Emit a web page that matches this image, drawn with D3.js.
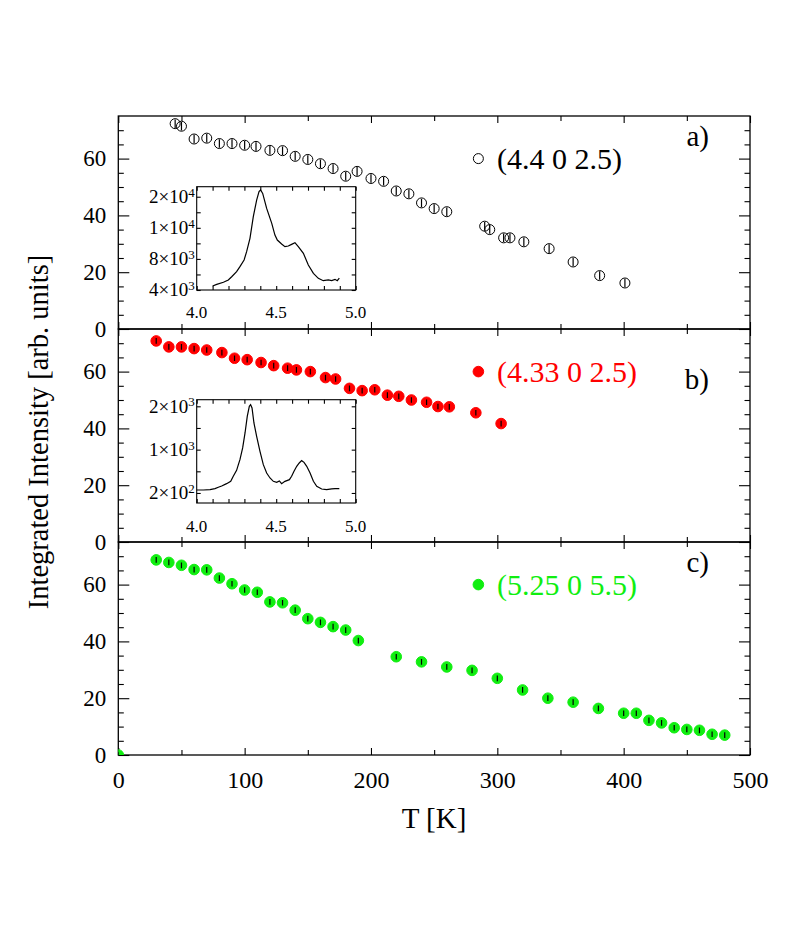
<!DOCTYPE html>
<html>
<head>
<meta charset="utf-8">
<script src="https://cdn.jsdelivr.net/npm/d3@7"></script>
<style>
  body { margin: 0; background: #fff; }
  svg { display: block; }
  text { font-family: "Liberation Serif", "Times New Roman", Times, serif; }
</style>
</head>
<body>
<script>
// temperature scans, one per reflection
const tA = [45, 50, 60, 70, 80, 90, 100, 109, 120, 130, 140, 150, 160, 170, 180, 189, 200, 210, 220, 230, 240, 250, 260, 290, 294, 305, 310, 321, 341, 360, 381, 401];
const iA = [72.3, 71.4, 66.9, 67.2, 65.3, 65.3, 64.7, 64.3, 62.9, 62.8, 60.8, 59.7, 58.2, 56.5, 53.8, 55.5, 53.0, 52.0, 48.6, 47.6, 44.4, 42.4, 41.3, 36.2, 35.0, 32.1, 32.1, 30.7, 28.3, 23.6, 18.8, 16.2];

const tB = [30, 40, 50, 60, 70, 82, 92, 102, 113, 123, 134, 141, 152, 164, 172, 183, 193, 203, 213, 222, 232, 244, 253, 262, 283, 303];
const iB = [70.8, 68.7, 68.7, 68.1, 67.6, 66.7, 64.7, 64.2, 63.2, 62.1, 61.2, 60.6, 60.0, 57.9, 57.4, 54.1, 53.3, 53.6, 51.7, 51.3, 50.0, 49.2, 47.7, 47.6, 45.5, 41.7];

const tC = [0, 30, 40, 50, 60, 70, 80, 90, 100, 110, 120, 130, 140, 150, 160, 170, 180, 190, 220, 240, 260, 280, 300, 320, 340, 360, 380, 400, 410, 420, 430, 440, 450, 460, 470, 480];
const iC = [0, 68.7, 67.8, 66.8, 65.3, 65.2, 62.3, 60.3, 58.1, 57.3, 53.9, 53.6, 51.0, 48.0, 46.7, 45.2, 44.0, 40.3, 34.6, 32.8, 31.0, 29.8, 27.0, 22.9, 20.0, 18.6, 16.4, 14.7, 14.7, 12.2, 11.3, 9.6, 9.0, 8.7, 7.3, 7.0];

const errA = 1.5, errB = 1.0, errC = 1.0;

const labels = ['(4.4 0 2.5)', '(4.33 0 2.5)', '(5.25 0 5.5)'];
const panelNames = ['a)', 'b)', 'c)'];

// insets: scans along h
const hA = [4.100, 4.126, 4.168, 4.199, 4.220, 4.251, 4.272, 4.298, 4.314, 4.335, 4.356, 4.377, 4.392, 4.402, 4.415, 4.440, 4.472, 4.492, 4.507, 4.534, 4.555, 4.576, 4.597, 4.618, 4.639, 4.671, 4.702, 4.734, 4.765, 4.796, 4.828, 4.849, 4.870, 4.884, 4.897];
const cA = [4510, 4730, 4990, 5290, 5710, 6360, 7000, 7860, 8930, 10650, 13430, 15570, 16650, 16860, 16430, 14500, 12570, 11070, 10430, 9920, 9570, 9660, 9870, 10090, 9570, 8720, 7220, 6140, 5500, 5200, 5290, 5200, 5370, 5200, 5540];

const hB = [4.000, 4.042, 4.084, 4.115, 4.136, 4.157, 4.188, 4.214, 4.230, 4.251, 4.262, 4.272, 4.289, 4.304, 4.318, 4.331, 4.339, 4.348, 4.360, 4.377, 4.398, 4.419, 4.440, 4.461, 4.482, 4.503, 4.520, 4.534, 4.555, 4.583, 4.597, 4.612, 4.629, 4.645, 4.660, 4.675, 4.692, 4.713, 4.734, 4.755, 4.786, 4.817, 4.849, 4.870, 4.897];
const cB = [255, 255, 261, 280, 305, 329, 372, 415, 508, 618, 723, 815, 1031, 1308, 1615, 1800, 1831, 1769, 1492, 1246, 969, 723, 569, 477, 415, 397, 422, 372, 415, 446, 508, 600, 692, 754, 797, 766, 692, 569, 415, 323, 274, 261, 274, 280, 280];

const tTicks = [0, 100, 200, 300, 400, 500];
const tMinor = [50, 150, 250, 350, 450];
const iTicks = [0, 20, 40, 60];
const iMinor = [5, 10, 15, 25, 30, 35, 45, 50, 55, 65, 70];
const hTicks = [4.0, 4.5, 5.0];
const hMinor = [4.1, 4.2, 4.3, 4.4, 4.6, 4.7, 4.8, 4.9];
const cTicksA = [4000, 8000, 12000, 16000];
const cMinorA = [6000, 10000, 14000];
const cTicksB = [200, 1000, 1800];
const cMinorB = [600, 1400];

const serif = '"Liberation Serif", "Times New Roman", Times, serif';
const red = '#ff0000';
const green = '#10ee10';

const svg = d3.select('body').append('svg')
  .attr('width', 789)
  .attr('height', 944)
  .attr('font-family', serif);

const left = 118.3, right = 750;
const tops = [116, 329, 542];
const ph = 213;

const x = d3.scaleLinear().domain([0, 500]).range([left, right]);

// inward ticks on one edge
const edge = function(g, axis, pos, values, len, fmt) {
  const a = g.append('g')
    .attr('transform', pos)
    .call(axis.tickValues(values).tickSizeInner(-len).tickSizeOuter(0).tickFormat(fmt || ''));
  a.select('.domain').remove();
  a.selectAll('line').attr('stroke', '#000').attr('stroke-width', 1.1);
  a.attr('font-family', serif).attr('font-size', null);
  return a;
}

const series = [
  { t: tA, v: iA, err: errA, fill: 'none', stroke: '#000', text: '#000', label: labels[0] },
  { t: tB, v: iB, err: errB, fill: red, stroke: red, text: red, label: labels[1] },
  { t: tC, v: iC, err: errC, fill: green, stroke: green, text: green, label: labels[2] },
];

const nameY = [146, 389, 572];

series.forEach((s, k) => {
  const top = tops[k], bottom = top + ph;
  const y = d3.scaleLinear().domain([0, 75]).range([bottom, top]);
  const g = svg.append('g');

  svg.append('clipPath').attr('id', 'clip' + k)
    .append('rect').attr('x', left).attr('y', top).attr('width', right - left).attr('height', ph);

  // ticks
  edge(g, d3.axisLeft(y), `translate(${left},0)`, iTicks, 11, d3.format('d'))
    .call(a => a.selectAll('text').attr('font-size', 23).attr('fill', '#000').attr('x', -12));
  edge(g, d3.axisLeft(y), `translate(${left},0)`, iMinor, 5.5);
  edge(g, d3.axisRight(y), `translate(${right},0)`, iTicks, 11);
  edge(g, d3.axisRight(y), `translate(${right},0)`, iMinor, 5.5);
  edge(g, d3.axisTop(x), `translate(0,${top})`, tTicks, 7);
  edge(g, d3.axisTop(x), `translate(0,${top})`, tMinor, 5);
  const bx = edge(g, d3.axisBottom(x), `translate(0,${bottom})`, tTicks, 7, k === 2 ? d3.format('d') : '');
  if (k === 2) bx.selectAll('text').attr('font-size', 24).attr('fill', '#000').attr('y', 16);
  edge(g, d3.axisBottom(x), `translate(0,${bottom})`, tMinor, 5);

  g.append('rect')
    .attr('x', left).attr('y', top)
    .attr('width', right - left).attr('height', ph)
    .attr('fill', 'none').attr('stroke', '#000').attr('stroke-width', 1.3);

  // markers
  const pts = g.append('g').attr('clip-path', `url(#clip${k})`)
    .selectAll('g')
    .data(s.t.map((t, i) => [t, s.v[i]]))
    .enter()
    .append('g');

  pts.append('circle')
    .attr('cx', d => x(d[0]))
    .attr('cy', d => y(d[1]))
    .attr('r', k === 0 ? 5 : 5.3)
    .attr('fill', s.fill)
    .attr('stroke', s.stroke)
    .attr('stroke-width', 1);

  pts.append('line')
    .attr('x1', d => x(d[0])).attr('x2', d => x(d[0]))
    .attr('y1', d => y(d[1] - s.err)).attr('y2', d => y(d[1] + s.err))
    .attr('stroke', '#000')
    .attr('stroke-width', 1.2);

  // legend
  g.append('circle')
    .attr('cx', x(285)).attr('cy', y(60))
    .attr('r', k === 0 ? 5 : 5.3)
    .attr('fill', s.fill).attr('stroke', s.stroke).attr('stroke-width', 1);

  g.append('text')
    .attr('x', 497).attr('y', y(60)).attr('dy', '0.34em')
    .attr('font-size', 30)
    .attr('fill', s.text)
    .text(s.label);

  g.append('text')
    .attr('x', 709).attr('y', nameY[k])
    .attr('text-anchor', 'end')
    .attr('font-size', 29)
    .text(panelNames[k]);
});

// insets
const insets = [
  { h: hA, c: cA, top: 186.7, bottom: 290, dom: [4000, 17290], major: cTicksA, minor: cMinorA, lab: 318 },
  { h: hB, c: cB, top: 399.7, bottom: 503, dom: [15, 1922], major: cTicksB, minor: cMinorB, lab: 532 },
];

const ix = d3.scaleLinear().domain([4.0, 5.0]).range([196.7, 355.7]);
const sci = d3.format('.0e');

insets.forEach(ins => {
  const iy = d3.scaleLinear().domain(ins.dom).range([ins.bottom, ins.top]);
  const g = svg.append('g');
  const [x0, x1] = ix.range();

  g.append('rect')
    .attr('x', x0).attr('y', ins.top)
    .attr('width', x1 - x0).attr('height', ins.bottom - ins.top)
    .attr('fill', '#fff');

  edge(g, d3.axisLeft(iy), `translate(${x0},0)`, ins.major.concat(ins.minor), 4);
  edge(g, d3.axisRight(iy), `translate(${x1},0)`, ins.major.concat(ins.minor), 4);
  edge(g, d3.axisTop(ix), `translate(0,${ins.top})`, hTicks.concat(hMinor), 4);
  edge(g, d3.axisBottom(ix), `translate(0,${ins.bottom})`, hTicks.concat(hMinor), 4);

  g.append('rect')
    .attr('x', x0).attr('y', ins.top)
    .attr('width', x1 - x0).attr('height', ins.bottom - ins.top)
    .attr('fill', 'none').attr('stroke', '#000').attr('stroke-width', 1.1);

  g.append('path')
    .datum(ins.h.map((h, i) => [h, ins.c[i]]))
    .attr('d', d3.line().x(d => ix(d[0])).y(d => iy(d[1])))
    .attr('fill', 'none')
    .attr('stroke', '#000')
    .attr('stroke-width', 1.2);

  g.selectAll('.hl')
    .data(hTicks)
    .enter()
    .append('text')
    .attr('x', d => ix(d))
    .attr('y', ins.lab)
    .attr('text-anchor', 'middle')
    .attr('font-size', 17)
    .text(d3.format('.1f'));

  const yl = g.selectAll('.cl')
    .data(ins.major)
    .enter()
    .append('text')
    .attr('x', x0 - 2)
    .attr('y', d => iy(d))
    .attr('dy', '0.34em')
    .attr('text-anchor', 'end')
    .attr('font-size', 19);

  yl.append('tspan').text(d => sci(d).split('e')[0] + '\u00d710');
  yl.append('tspan')
    .attr('dy', '-0.5em')
    .attr('font-size', 13)
    .text(d => +sci(d).split('e')[1]);
});

// axis titles
svg.append('text')
  .attr('transform', 'translate(48,432) rotate(-90)')
  .attr('text-anchor', 'middle')
  .attr('font-size', 28.5)
  .text('Integrated Intensity [arb. units]');

svg.append('text')
  .attr('x', 434).attr('y', 828)
  .attr('text-anchor', 'middle')
  .attr('font-size', 29)
  .text('T [K]');
</script>
</body>
</html>
